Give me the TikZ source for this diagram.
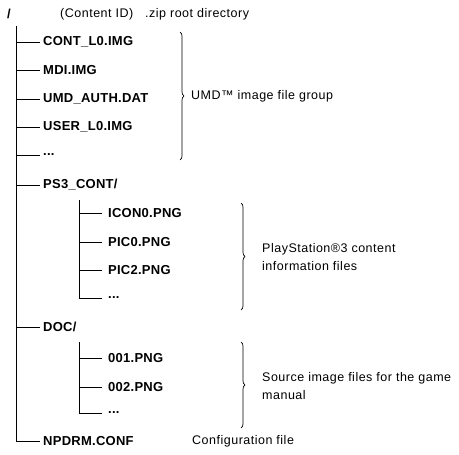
\documentclass[tikz,border=0pt]{standalone}
\usepackage{fontspec}
\setmainfont{Liberation Sans}
\usetikzlibrary{decorations.pathreplacing}
\begin{document}
\begin{tikzpicture}[x=1pt,y=-1pt,
  file/.style={anchor=west,inner sep=0pt,font=\fontsize{13}{15}\selectfont\bfseries\addfontfeatures{LetterSpace=2}},
  note/.style={anchor=west,inner sep=0pt,font=\fontsize{12.5}{18.5}\selectfont\addfontfeatures{LetterSpace=4},align=left},
  tree/.style={line width=0.9pt,black},
  brc/.style={line width=0.7pt,decorate,decoration={brace,amplitude=4pt}}]
\useasboundingbox (0,0) rectangle (459,455);
% header
\node[file] (root) at (7,14) {/};
\node[note] (cid) at (60,14) {(Content ID)};
\node[note] (zip) at (145,14) {.zip root directory};
% main trunk
\coordinate (t0) at (16,26);
\foreach \n/\y in {a/42,b/70,c/99,d/127,e/155,f/185,g/327,h/441}{\coordinate (t\n) at (16,\y);}
\node[file] (cont) at (43,42) {CONT\_L0.IMG};
\node[file] (mdi) at (43,70) {MDI.IMG};
\node[file] (auth) at (43,99) {UMD\_AUTH.DAT};
\node[file] (user) at (43,127) {USER\_L0.IMG};
\node[file] (dots1) at (43,155) {...};
\node[file] (ps3) at (43,185) {PS3\_CONT/};
\node[file] (doc) at (43,327) {DOC/};
\node[file] (npdrm) at (43,441) {NPDRM.CONF};
\draw[tree,shorten >=3pt] (t0) -- (th) -- (npdrm.west);
\foreach \c/\n in {ta/cont,tb/mdi,tc/auth,td/user,te/dots1,tf/ps3,tg/doc}{\draw[tree,shorten >=3pt] (\c) -- (\n.west);}
% PS3_CONT subtree
\coordinate (p0) at (79,200);
\coordinate (pa) at (79,213);
\coordinate (pb) at (79,242);
\coordinate (pc) at (79,270);
\coordinate (pd) at (79,298);
\node[file] (icon) at (108,213) {ICON0.PNG};
\node[file] (pic0) at (108,242) {PIC0.PNG};
\node[file] (pic2) at (108,270) {PIC2.PNG};
\node[file] (dots2) at (108,298) {...};
\draw[tree,shorten >=6pt] (p0) -- (pd) -- (dots2.west);
\foreach \c/\n in {pa/icon,pb/pic0,pc/pic2}{\draw[tree,shorten >=6pt] (\c) -- (\n.west);}
% DOC subtree
\coordinate (q0) at (79,342);
\coordinate (qa) at (79,358);
\coordinate (qb) at (79,387);
\coordinate (qc) at (79,413);
\node[file] (p001) at (108,358) {001.PNG};
\node[file] (p002) at (108,387) {002.PNG};
\node[file] (dots3) at (108,413) {...};
\draw[tree,shorten >=6pt] (q0) -- (qc) -- (dots3.west);
\foreach \c/\n in {qa/p001,qb/p002}{\draw[tree,shorten >=6pt] (\c) -- (\n.west);}
% braces and notes
\coordinate (b1t) at (180,32);
\coordinate (b1b) at (180,160);
\draw[brc] (b1t) -- (b1b);
\node[note] (umd) at (191,96) {UMD™ image file group};
\coordinate (b2t) at (241,203);
\coordinate (b2b) at (241,310);
\draw[brc] (b2t) -- (b2b);
\node[note] (ps3note) at (262,257) {PlayStation®3 content\\information files};
\coordinate (b3t) at (241,342);
\coordinate (b3b) at (241,428);
\draw[brc] (b3t) -- (b3b);
\node[note] (docnote) at (262,386) {Source image files for the game\\manual};
\node[note] (conf) at (192,441) {Configuration file};
\end{tikzpicture}
\end{document}
